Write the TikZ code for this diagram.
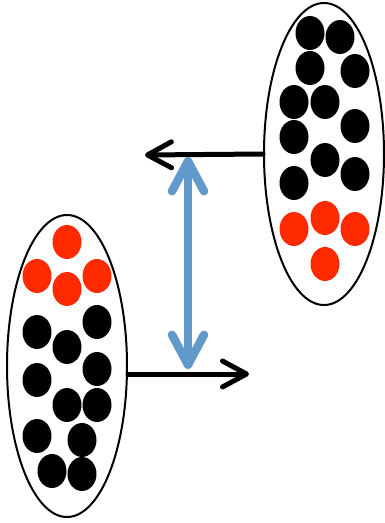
\documentclass[tikz,border=0pt]{standalone}
\usepackage{tikz}
\usetikzlibrary{arrows.meta, shapes.geometric}
\definecolor{dotred}{HTML}{FF2A00}
\definecolor{linkblue}{HTML}{6299CB}

\begin{document}
\begin{tikzpicture}[x=1pt, y=-1pt,
	pool/.style={draw, ellipse, line width=2pt, minimum width=120pt, minimum height=302pt, inner sep=0pt},
	moveline/.style={line width=5pt, line cap=round, arrows={-Straight Barb[length=24pt, width=26pt, round]}},
	bondline/.style={color=linkblue, line width=8.5pt, arrows={Straight Barb[length=30pt, width=32pt, round]-Straight Barb[length=30pt, width=32pt, round]}},
	dot/.style={x radius=14.5pt, y radius=17pt}]
	\useasboundingbox (0,0) rectangle (385,523);
	\node[pool] (upper) at (324,154) {};
	\node[pool] (lower) at (67,366) {};
	% dots, upper set
	\foreach \px/\py in {310/33, 340/37, 310/68, 355/71, 294/102, 325/102, 355/126, 294/137, 325/160, 355/174, 294/183}
		\fill[black] (\px,\py) ellipse [dot];
	\foreach \px/\py in {294/229, 325/218, 355/229, 325/264}
		\fill[dotred] (\px,\py) ellipse [dot];
	% dots, lower set
	\foreach \px/\py in {67/242, 37/276, 67/289, 97/276}
		\fill[dotred] (\px,\py) ellipse [dot];
	\foreach \px/\py in {97/322, 37/332, 67/347, 97/369, 37/380, 67/405, 97/405, 37/436, 82/440, 52/471, 82/474}
		\fill[black] (\px,\py) ellipse [dot];
	% arrows
	\coordinate (outtip) at (145,155);
	\coordinate (intip) at (249,374);
	\coordinate (bondtop) at (188,157);
	\coordinate (bondbot) at (188,369);
	\draw[moveline] (upper.west) -- (outtip);
	\draw[moveline] (lower.east |- intip) -- (intip);
	\draw[bondline] (bondtop) -- (bondbot);
\end{tikzpicture}
\end{document}
